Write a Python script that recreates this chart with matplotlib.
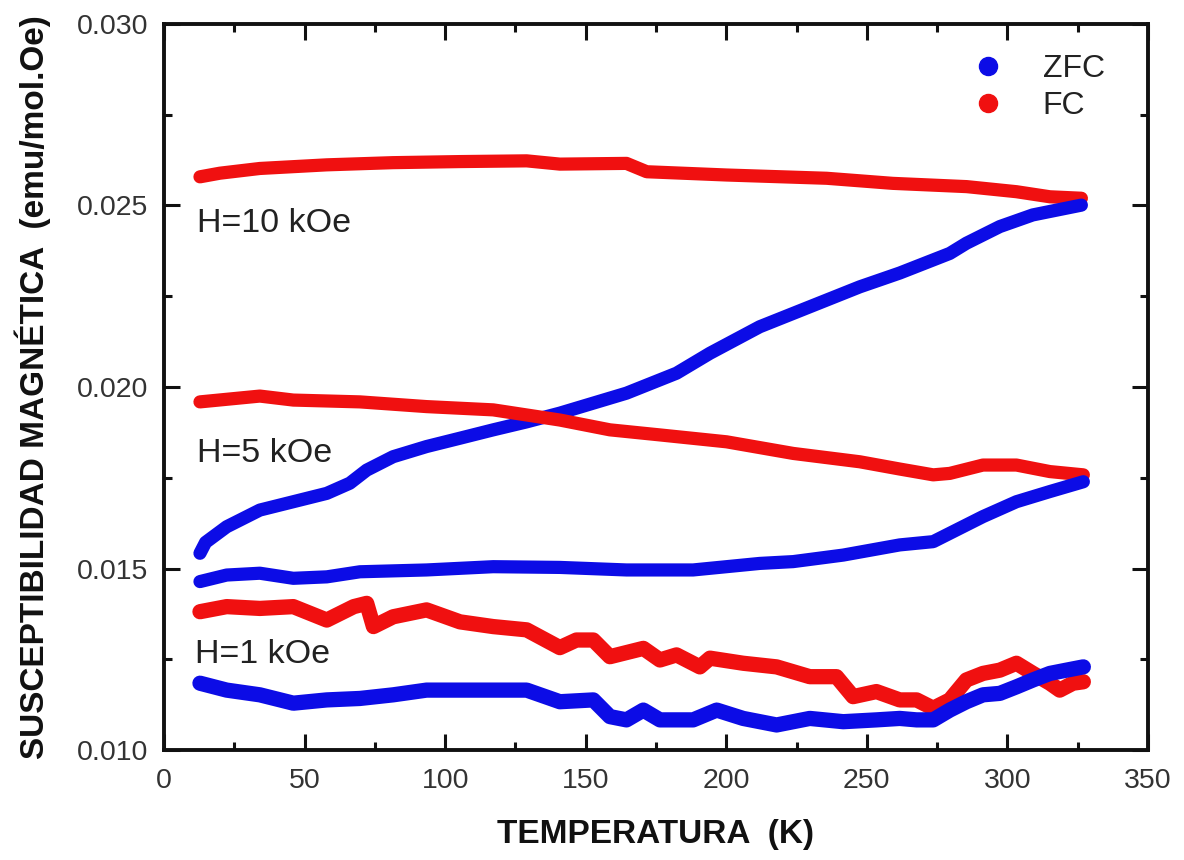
import matplotlib
matplotlib.use("Agg")
import matplotlib.pyplot as plt
from matplotlib.lines import Line2D
from matplotlib.ticker import MultipleLocator, FormatStrFormatter

plt.rcParams['font.family'] = ['Liberation Sans', 'DejaVu Sans']

# ---- data: temperature (K) and molar susceptibility (emu/mol.Oe) ----
# H = 10 kOe
T_fc10 = [12.8, 19.9, 34.1, 57.9, 81.4, 105.3, 129.0, 140.8, 164.5, 171.7,
          200.1, 235.7, 259.2, 285.5, 303.2, 315.1, 326.3]
chi_fc10 = [0.02579, 0.02589, 0.02602, 0.02612, 0.02618, 0.02621, 0.02623,
            0.02614, 0.02616, 0.02593, 0.02584, 0.02575, 0.02561, 0.02552,
            0.02538, 0.02524, 0.02520]

T_zfc10 = [12.8, 14.8, 22.3, 34.1, 46.0, 57.9, 66.1, 72.1, 81.5, 93.4, 105.3,
           117.1, 129.0, 140.8, 164.5, 182.3, 194.2, 211.9, 229.7, 247.5,
           261.7, 279.5, 285.4, 297.3, 309.0, 326.3]
chi_zfc10 = [0.01542, 0.01572, 0.01615, 0.01661, 0.01684, 0.01707, 0.01735,
             0.01771, 0.01808, 0.01836, 0.01859, 0.01882, 0.01904, 0.01928,
             0.01983, 0.02038, 0.02093, 0.02166, 0.02221, 0.02276, 0.02314,
             0.02368, 0.02396, 0.02442, 0.02474, 0.02501]

# H = 5 kOe
T_fc5 = [12.8, 34.1, 46.0, 69.7, 93.4, 117.1, 140.8, 158.6, 176.4, 200.1,
         223.8, 247.5, 261.7, 273.6, 279.5, 291.3, 303.2, 315.1, 327.0]
chi_fc5 = [0.01959, 0.01975, 0.01964, 0.01959, 0.01946, 0.01937, 0.01909,
           0.01882, 0.01868, 0.01849, 0.01817, 0.01794, 0.01774, 0.01758,
           0.01762, 0.01785, 0.01785, 0.01767, 0.01758]

T_zfc5 = [12.8, 22.3, 34.1, 46.0, 57.9, 69.7, 93.4, 117.1, 140.8, 164.5,
          188.2, 211.9, 223.8, 241.6, 261.7, 273.6, 279.5, 291.3, 303.2,
          315.1, 327.0]
chi_zfc5 = [0.01464, 0.01482, 0.01487, 0.01473, 0.01477, 0.01491, 0.01496,
            0.01505, 0.01503, 0.01496, 0.01496, 0.01514, 0.01519, 0.01537,
            0.01565, 0.01574, 0.01597, 0.01643, 0.01684, 0.01712, 0.01739]

# H = 1 kOe
T_fc1 = [12.8, 22.3, 34.1, 46.0, 57.9, 67.5, 72.1, 74.5, 81.5, 93.4, 105.3,
         117.1, 129.0, 140.8, 146.7, 152.7, 158.6, 170.5, 176.4, 182.3,
         190.6, 194.2, 206.0, 217.9, 229.7, 239.2, 245.1, 253.4, 261.7,
         267.7, 273.6, 279.5, 285.4, 291.3, 297.3, 303.2, 309.1, 315.1,
         318.6, 323.3, 327.0]
chi_fc1 = [0.01381, 0.01395, 0.01390, 0.01395, 0.01358, 0.01395, 0.01404,
           0.01340, 0.01367, 0.01386, 0.01353, 0.01340, 0.01331, 0.01282,
           0.01303, 0.01303, 0.01257, 0.01280, 0.01248, 0.01262, 0.01229,
           0.01253, 0.01239, 0.01229, 0.01202, 0.01202, 0.01147, 0.01161,
           0.01138, 0.01138, 0.01115, 0.01138, 0.01193, 0.01211, 0.01220,
           0.01239, 0.01211, 0.01184, 0.01165, 0.01184, 0.01188]

T_zfc1 = [12.8, 22.3, 34.1, 46.0, 57.9, 69.7, 81.5, 93.4, 105.3, 117.1, 129.0,
          140.8, 152.7, 158.6, 164.5, 170.5, 176.4, 188.2, 196.6, 206.0,
          217.9, 229.7, 241.6, 253.4, 261.7, 267.7, 273.6, 279.5, 285.4,
          291.3, 297.3, 303.2, 309.1, 315.1, 321.0, 327.0]
chi_zfc1 = [0.01184, 0.01165, 0.01152, 0.01129, 0.01138, 0.01142, 0.01152,
            0.01165, 0.01165, 0.01165, 0.01165, 0.01133, 0.01138, 0.01092,
            0.01083, 0.01110, 0.01083, 0.01083, 0.01110, 0.01087, 0.01069,
            0.01087, 0.01078, 0.01083, 0.01087, 0.01083, 0.01083, 0.01110,
            0.01133, 0.01152, 0.01156, 0.01174, 0.01193, 0.01211, 0.01220,
            0.01229]

field_labels = ["H=10 kOe", "H=5 kOe", "H=1 kOe"]
label_T = [11.6, 11.6, 11.0]
label_chi = [0.02428, 0.01794, 0.01239]

legend_labels = ["ZFC", "FC"]

RED = "#f01010"
BLUE = "#0c0ce6"

fig = plt.figure(figsize=(11.84, 8.60), dpi=100)
ax = fig.add_axes([0.1385, 0.1279, 0.8311, 0.8442])

curves = [
    (T_fc10, chi_fc10, RED, 9.5),
    (T_zfc10, chi_zfc10, BLUE, 9.5),
    (T_fc5, chi_fc5, RED, 9.5),
    (T_zfc5, chi_zfc5, BLUE, 9.5),
    (T_fc1, chi_fc1, RED, 11),
    (T_zfc1, chi_zfc1, BLUE, 11),
]
for T, chi, col, lw in curves:
    ax.plot(T, chi, color=col, lw=lw, solid_capstyle="round",
            solid_joinstyle="round")

for txt, tx, ty in zip(field_labels, label_T, label_chi):
    ax.text(tx, ty, txt, fontsize=24.5, color="#222222", ha="left",
            va="baseline")

ax.set_xlim(0, 350)
ax.set_ylim(0.010, 0.030)
ax.xaxis.set_major_locator(MultipleLocator(50))
ax.xaxis.set_minor_locator(MultipleLocator(25))
ax.yaxis.set_major_locator(MultipleLocator(0.005))
ax.yaxis.set_minor_locator(MultipleLocator(0.0025))
ax.yaxis.set_major_formatter(FormatStrFormatter("%.3f"))

ax.tick_params(which="both", direction="in", top=True, right=True,
               width=2.2, colors="#111111", labelcolor="#333333")
ax.tick_params(which="major", length=11.5, labelsize=20.5)
ax.tick_params(which="minor", length=6)
ax.tick_params(axis="x", which="major", pad=13)
ax.tick_params(axis="y", which="major", pad=11)
for sp in ax.spines.values():
    sp.set_linewidth(2.8)
    sp.set_color("#111111")

ax.set_xlabel("TEMPERATURA  (K)", fontsize=24, fontweight="bold",
              labelpad=18, color="#111111")
ax.set_ylabel("SUSCEPTIBILIDAD MAGNÉTICA  (emu/mol.Oe)", fontsize=24,
              fontweight="bold", labelpad=19, color="#111111")

handles = [
    Line2D([], [], ls="", marker="o", ms=13, color=BLUE),
    Line2D([], [], ls="", marker="o", ms=13, color=RED),
]
leg = ax.legend(handles, legend_labels, loc="upper left",
                bbox_to_anchor=(0.821, 0.959), frameon=False, fontsize=23,
                handlelength=1.0, handletextpad=1.22, labelspacing=0.22,
                borderpad=0, borderaxespad=0)
for t in leg.get_texts():
    t.set_color("#222222")

fig.savefig("out.png", dpi=100, facecolor="white")
